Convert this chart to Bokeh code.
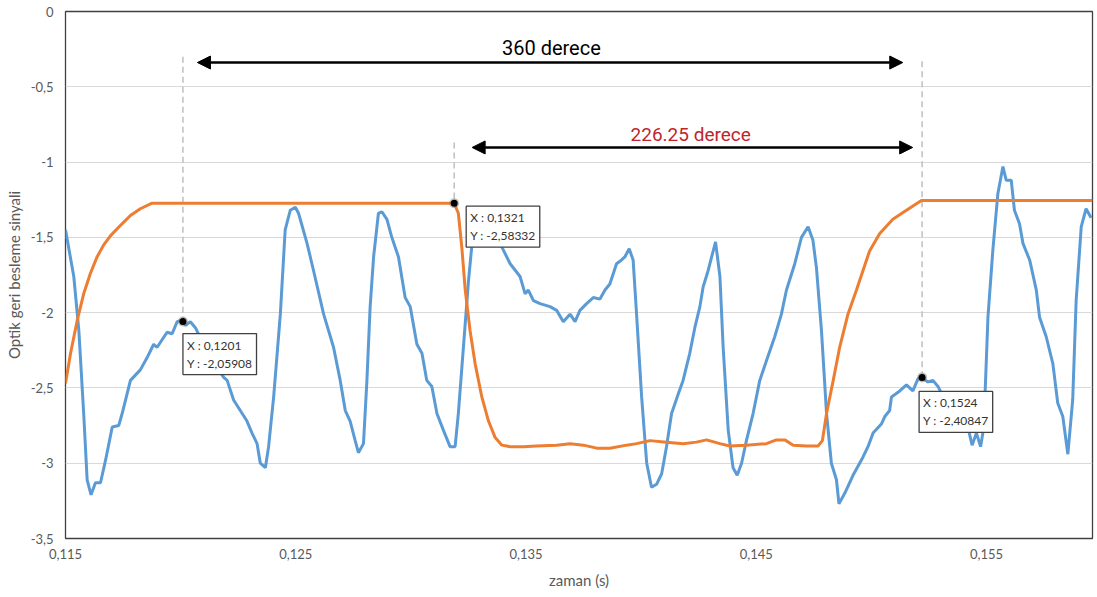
from bokeh.plotting import figure
from bokeh.models import Range1d, FixedTicker, Arrow, NormalHead, Label
from bokeh.embed import file_html
from bokeh.resources import INLINE

# ---------------- data ----------------
blue_x = [0.11500, 0.11536, 0.11558, 0.11579, 0.11594, 0.11611, 0.11630, 0.11652, 0.11674, 0.11703,
          0.11731, 0.11746, 0.11782, 0.11825, 0.11854, 0.11883, 0.11898, 0.11941, 0.11963, 0.11985,
          0.12006, 0.12021, 0.12042, 0.12064, 0.12099, 0.12158, 0.12187, 0.12202, 0.12230, 0.12259,
          0.12288, 0.12310, 0.12332, 0.12346, 0.12368, 0.12382, 0.12404, 0.12433, 0.12454, 0.12476,
          0.12498, 0.12512, 0.12549, 0.12577, 0.12621, 0.12664, 0.12693, 0.12715, 0.12736, 0.12758,
          0.12772, 0.12794, 0.12809, 0.12823, 0.12838, 0.12859, 0.12874, 0.12896, 0.12917, 0.12946,
          0.12975, 0.12997, 0.13026, 0.13048, 0.13069, 0.13091, 0.13113, 0.13141, 0.13170, 0.13192,
          0.13206, 0.13228, 0.13250, 0.13264, 0.13279, 0.13322, 0.13366, 0.13387, 0.13431, 0.13474,
          0.13496, 0.13510, 0.13532, 0.13561, 0.13604, 0.13633, 0.13662, 0.13691, 0.13713, 0.13734,
          0.13763, 0.13792, 0.13821, 0.13843, 0.13864, 0.13893, 0.13915, 0.13929, 0.13948, 0.13965,
          0.13980, 0.14002, 0.14024, 0.14045, 0.14067, 0.14089, 0.14110, 0.14132, 0.14161, 0.14182,
          0.14211, 0.14233, 0.14255, 0.14269, 0.14291, 0.14306, 0.14323, 0.14342, 0.14356, 0.14378,
          0.14399, 0.14417, 0.14436, 0.14457, 0.14486, 0.14515, 0.14544, 0.14580, 0.14609, 0.14631,
          0.14667, 0.14696, 0.14725, 0.14746, 0.14761, 0.14783, 0.14805, 0.14826, 0.14848, 0.14859,
          0.14884, 0.14920, 0.14963, 0.14985, 0.15007, 0.15043, 0.15058, 0.15079, 0.15087, 0.15123,
          0.15152, 0.15180, 0.15202, 0.15217, 0.15245, 0.15267, 0.15289, 0.15318, 0.15361, 0.15392,
          0.15419, 0.15437, 0.15456, 0.15474, 0.15488, 0.15506, 0.15527, 0.15549, 0.15571, 0.15585,
          0.15607, 0.15621, 0.15643, 0.15658, 0.15687, 0.15716, 0.15730, 0.15759, 0.15788, 0.15809,
          0.15831, 0.15853, 0.15874, 0.15889, 0.15911, 0.15932, 0.15954]
blue_y = [-1.45, -1.76, -2.12, -2.67, -3.11, -3.21, -3.13, -3.13, -2.98, -2.76,
          -2.75, -2.67, -2.45, -2.38, -2.30, -2.21, -2.23, -2.13, -2.14, -2.06,
          -2.05, -2.085, -2.06, -2.10, -2.21, -2.36, -2.43, -2.45, -2.58, -2.65,
          -2.72, -2.80, -2.87, -3.00, -3.03, -2.89, -2.56, -2.01, -1.45, -1.32,
          -1.30, -1.34, -1.54, -1.72, -2.01, -2.23, -2.45, -2.65, -2.72, -2.85,
          -2.93, -2.87, -2.45, -1.96, -1.63, -1.34, -1.33, -1.38, -1.50, -1.63,
          -1.90, -1.96, -2.21, -2.27, -2.45, -2.49, -2.67, -2.78, -2.89, -2.89,
          -2.67, -2.23, -1.79, -1.565, -1.45, -1.40, -1.46, -1.54, -1.675, -1.76,
          -1.875, -1.85, -1.92, -1.94, -1.96, -1.985, -2.06, -2.01, -2.06, -1.985,
          -1.94, -1.90, -1.91, -1.85, -1.81, -1.675, -1.65, -1.63, -1.576, -1.65,
          -2.01, -2.56, -3.00, -3.16, -3.14, -3.07, -2.89, -2.67, -2.54, -2.45,
          -2.27, -2.10, -1.96, -1.83, -1.72, -1.63, -1.53, -1.76, -2.23, -2.78,
          -3.03, -3.08, -3.00, -2.85, -2.67, -2.45, -2.32, -2.16, -2.01, -1.85,
          -1.675, -1.50, -1.43, -1.52, -1.70, -2.12, -2.67, -3.00, -3.11, -3.27,
          -3.20, -3.08, -2.96, -2.89, -2.80, -2.74, -2.69, -2.65, -2.56, -2.52,
          -2.48, -2.52, -2.44, -2.43, -2.46, -2.45, -2.49, -2.58, -2.69, -2.74,
          -2.76, -2.88, -2.80, -2.89, -2.76, -2.03, -1.59, -1.21, -1.03, -1.12,
          -1.12, -1.32, -1.41, -1.54, -1.65, -1.85, -2.03, -2.16, -2.34, -2.60,
          -2.69, -2.94, -2.58, -1.92, -1.43, -1.31, -1.37]

orange_x = [0.11500, 0.11522, 0.11551, 0.11579, 0.11608, 0.11637, 0.11666, 0.11695, 0.11739, 0.11782,
            0.11825, 0.11876, 0.13188, 0.13206, 0.13221, 0.13236, 0.13257, 0.13279, 0.13308, 0.13337,
            0.13366, 0.13395, 0.13431, 0.13488, 0.13546, 0.13633, 0.13691, 0.13749, 0.13807, 0.13864,
            0.13937, 0.13980, 0.14038, 0.14110, 0.14182, 0.14240, 0.14284, 0.14342, 0.14385, 0.14457,
            0.14544, 0.14587, 0.14624, 0.14660, 0.14718, 0.14768, 0.14787, 0.14805, 0.14834, 0.14862,
            0.14898, 0.14935, 0.14992, 0.15036, 0.15093, 0.15152, 0.15217, 0.15960]
orange_y = [-2.47, -2.27, -2.05, -1.875, -1.74, -1.63, -1.55, -1.49, -1.42, -1.355,
            -1.31, -1.273, -1.273, -1.34, -1.565, -1.85, -2.12, -2.34, -2.56, -2.72,
            -2.83, -2.88, -2.89, -2.89, -2.886, -2.88, -2.87, -2.88, -2.90, -2.90,
            -2.88, -2.87, -2.85, -2.86, -2.87, -2.86, -2.845, -2.87, -2.886, -2.88,
            -2.87, -2.845, -2.845, -2.88, -2.886, -2.886, -2.85, -2.67, -2.45, -2.23,
            -2.01, -1.85, -1.59, -1.475, -1.38, -1.32, -1.255, -1.255]

marker_x = [0.1201, 0.13188, 0.1522]
marker_y = [-2.05908, -1.273, -2.43]
marker_text = ["X :  0,1201\nY : -2,05908", "X :  0,1321\nY : -2,58332", "X :  0,1524\nY : -2,40847"]
dash_top = [-0.30, -0.87, -0.33]

x_ticks = [0.115, 0.125, 0.135, 0.145, 0.155]
x_tick_labels = ["0,115", "0,125", "0,135", "0,145", "0,155"]
y_ticks = [0, -0.5, -1, -1.5, -2, -2.5, -3, -3.5]
y_tick_labels = ["0", "-0,5", "-1", "-1,5", "-2", "-2,5", "-3", "-3,5"]

arrow1 = dict(x0=0.12073, x1=0.15136, y=-0.339)
arrow2 = dict(x0=0.13266, x1=0.15179, y=-0.903)
text1 = dict(x=0.13610, y=-0.245, text="360 derece")
text2 = dict(x=0.14215, y=-0.82, text="226.25 derece")

# ---------------- figure ----------------
FONT = "Lato"
p = figure(width=1097, height=597,
           x_range=Range1d(0.115, 0.1596), y_range=Range1d(-3.5, 0),
           output_backend="svg", toolbar_location=None,
           min_border_left=65, min_border_right=5, min_border_top=11, min_border_bottom=59)
p.background_fill_color = "white"
p.border_fill_color = "white"
p.outline_line_color = "#404040"
p.outline_line_width = 1.3

p.xgrid.visible = False
p.ygrid.grid_line_color = "#d9d9d9"
p.ygrid.grid_line_width = 1

p.xaxis.ticker = FixedTicker(ticks=x_ticks)
p.xaxis.major_label_overrides = {t: l for t, l in zip(x_ticks, x_tick_labels)}
p.yaxis.ticker = FixedTicker(ticks=y_ticks)
p.yaxis.major_label_overrides = {t: l for t, l in zip(y_ticks, y_tick_labels)}

for ax in (p.xaxis, p.yaxis):
    ax.axis_line_color = None
    ax.major_tick_line_color = None
    ax.minor_tick_line_color = None
    ax.major_tick_out = 0
    ax.major_tick_in = 0
    ax.minor_tick_out = 0
    ax.minor_tick_in = 0
    ax.major_label_text_font = FONT
    ax.major_label_text_font_size = "13px"
    ax.major_label_text_color = "#595959"
    ax.axis_label_text_font = FONT
    ax.axis_label_text_color = "#595959"
    ax.axis_label_text_font_style = "normal"

p.xaxis.axis_label = "zaman (s)"
p.xaxis.axis_label_text_font_size = "15px"
p.xaxis.major_label_standoff = 10
p.xaxis.axis_label_standoff = 9

p.yaxis.axis_label = "Optik geri besleme sinyali"
p.yaxis.axis_label_text_font_size = "15px"
p.yaxis.major_label_standoff = 12
p.yaxis.axis_label_standoff = 5

# dashed guide lines
p.segment(x0=marker_x, y0=dash_top, x1=marker_x, y1=marker_y,
          line_color="#bfbfbf", line_width=1.5, line_dash="6 4")

# series
p.line(blue_x, blue_y, line_color="#5b9bd5", line_width=3)
p.line(orange_x, orange_y, line_color="#ed7d31", line_width=3)

# markers
p.scatter(marker_x, marker_y, size=10, fill_color="#7f7f7f", line_color=None, fill_alpha=0.5)
p.scatter(marker_x, marker_y, size=7, fill_color="black", line_color=None)

# data labels
offsets = [(0, -12), (12, -3), (-3, -14)]
for mx, my, t, (dx, dy) in zip(marker_x, marker_y, marker_text, offsets):
    p.add_layout(Label(x=mx, y=my, text=t, x_offset=dx, y_offset=dy,
                       text_align="left", text_baseline="top",
                       text_font=FONT, text_font_size="12px", text_color="#333333",
                       background_fill_color="white", border_line_color="#404040",
                       border_line_width=1.3, padding=4))

# arrows
for a in (arrow1, arrow2):
    p.add_layout(Arrow(start=NormalHead(size=13, fill_color="black", line_color="black"),
                       end=NormalHead(size=13, fill_color="black", line_color="black"),
                       x_start=a["x0"], y_start=a["y"], x_end=a["x1"], y_end=a["y"],
                       line_color="black", line_width=2.5))

TFONT = "Roboto"
p.add_layout(Label(x=text1["x"], y=text1["y"], text=text1["text"],
                   text_align="center", text_baseline="middle",
                   text_font=TFONT, text_font_size="20px", text_color="black"))
p.add_layout(Label(x=text2["x"], y=text2["y"], text=text2["text"],
                   text_align="center", text_baseline="middle",
                   text_font=TFONT, text_font_size="19px", text_color="#c0242c"))

open("out.html", "w").write(file_html(p, INLINE))
